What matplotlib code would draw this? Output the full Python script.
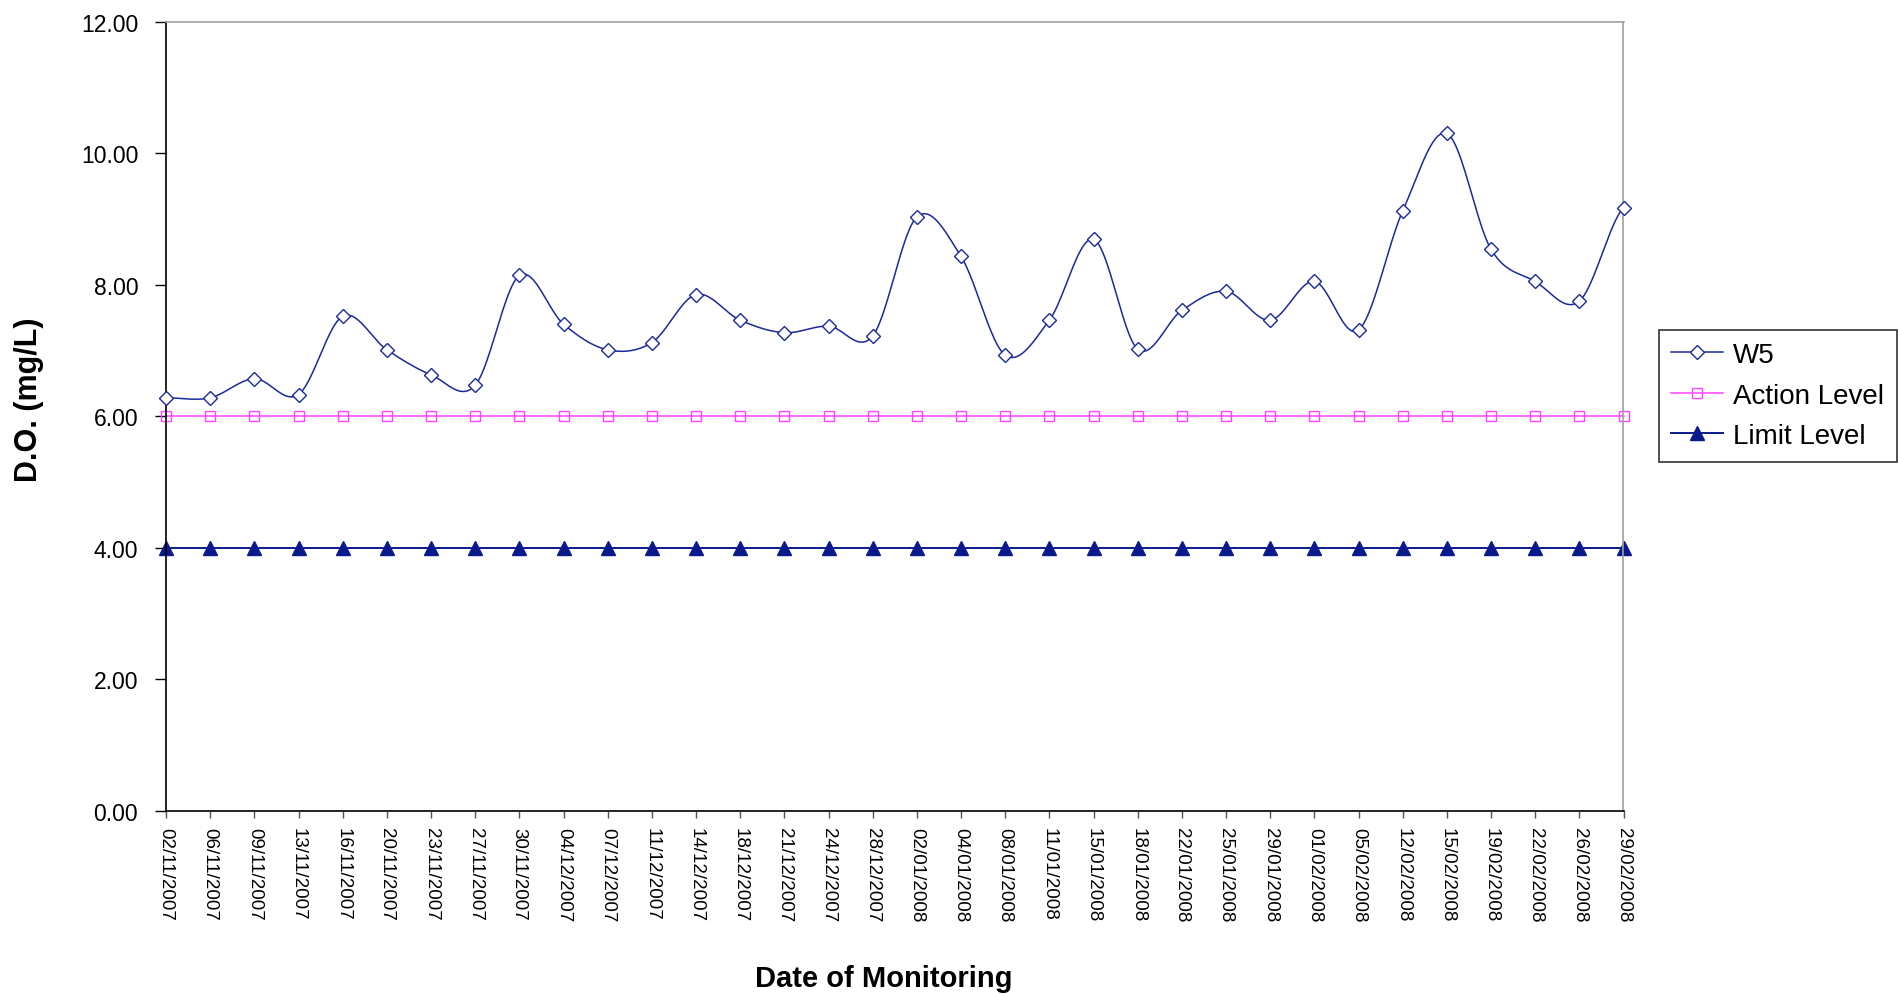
import numpy as np
import matplotlib
matplotlib.use('Agg')
import matplotlib.pyplot as plt

plt.rcParams['font.family'] = ['Liberation Sans', 'DejaVu Sans']

dates = ['02/11/2007', '06/11/2007', '09/11/2007', '13/11/2007', '16/11/2007',
         '20/11/2007', '23/11/2007', '27/11/2007', '30/11/2007', '04/12/2007',
         '07/12/2007', '11/12/2007', '14/12/2007', '18/12/2007', '21/12/2007',
         '24/12/2007', '28/12/2007', '02/01/2008', '04/01/2008', '08/01/2008',
         '11/01/2008', '15/01/2008', '18/01/2008', '22/01/2008', '25/01/2008',
         '29/01/2008', '01/02/2008', '05/02/2008', '12/02/2008', '15/02/2008',
         '19/02/2008', '22/02/2008', '26/02/2008', '29/02/2008']
w5 = [6.28, 6.28, 6.57, 6.33, 7.52, 7.01, 6.63, 6.47, 8.14, 7.40,
      7.01, 7.12, 7.85, 7.46, 7.27, 7.37, 7.22, 9.03, 8.43, 6.93,
      7.46, 8.69, 7.02, 7.61, 7.90, 7.46, 8.05, 7.31, 9.12, 10.30,
      8.54, 8.05, 7.75, 9.17]
action_level = [6.0] * len(dates)
limit_level = [4.0] * len(dates)


def smooth(y, n=24):
    # excel style smoothed line (bezier with (p2-p0)/6 control points)
    y = np.asarray(y, dtype=float)
    xs, ys = [], []
    for i in range(len(y) - 1):
        p0 = y[i - 1] if i > 0 else y[i]
        p1, p2 = y[i], y[i + 1]
        p3 = y[i + 2] if i + 2 < len(y) else y[i + 1]
        c1 = p1 + (p2 - p0) / 6
        c2 = p2 - (p3 - p1) / 6
        t = np.linspace(0, 1, n, endpoint=False)
        b = (1 - t)**3 * p1 + 3 * (1 - t)**2 * t * c1 + 3 * (1 - t) * t**2 * c2 + t**3 * p2
        xs.extend(i + t)
        ys.extend(b)
    xs.append(len(y) - 1)
    ys.append(y[-1])
    return np.array(xs), np.array(ys), n


x = np.arange(len(dates))
sx, sy, n = smooth(w5)

fig = plt.figure(figsize=(18.99, 9.95), dpi=100)
ax = fig.add_axes([166 / 1899, 1 - 811.7 / 995, (1623.5 - 166) / 1899, (811.7 - 22.7) / 995])

navy = '#1a2a9a'
ax.plot(sx, sy, color=navy, lw=1.1, marker='D', markevery=list(range(0, len(sx), n)),
        ms=7.2, mfc='white', mec=navy, mew=1.0, label='W5', clip_on=False, zorder=3)
ax.plot(x, action_level, color='#ff44ff', lw=1.1, marker='s', ms=6.5, mfc='none',
        mec='#ff44ff', mew=1.0, label='Action Level', clip_on=False, zorder=2)
ax.plot(x, limit_level, color='#0a1a8c', lw=1.4, marker='^', ms=10, mfc='#0a1a8c',
        mec='#0a1a8c', label='Limit Level', clip_on=False, zorder=2)

ax.set_xlim(0, len(dates) - 1)
ax.set_ylim(0, 12)
ax.set_yticks(np.arange(0, 12.01, 2))
ax.set_yticklabels(['{:.2f}'.format(v) for v in np.arange(0, 12.01, 2)], fontsize=16.5)
ax.set_xticks(x)
ax.set_xticklabels(dates, rotation=270, fontsize=13.5, ha='center', va='top')
ax.tick_params(axis='y', direction='out', length=8, width=1, pad=12)
ax.tick_params(axis='x', direction='out', length=5, width=1, pad=7, color='#555555')

for s in ['top', 'right']:
    ax.spines[s].set_color('#a0a0a0')
for s in ['left', 'bottom']:
    ax.spines[s].set_color('black')
for s in ax.spines.values():
    s.set_linewidth(1.2)

ax.set_ylabel('D.O. (mg/L)', fontsize=22, fontweight='bold')
ax.yaxis.set_label_coords(-0.0837, 0.522)
ax.set_xlabel('Date of Monitoring', fontsize=21, fontweight='bold')
ax.xaxis.set_label_coords(0.4925, -0.194)

leg = fig.legend(loc='upper left', bbox_to_anchor=(1659 / 1899, 1 - 330.7 / 995),
                 fontsize=20, frameon=True, fancybox=False, edgecolor='black',
                 handlelength=1.87, handletextpad=0.35, labelspacing=0.52,
                 borderpad=0.45, borderaxespad=0)
leg.get_frame().set_linewidth(1.2)

fig.savefig('out.png', dpi=100)
